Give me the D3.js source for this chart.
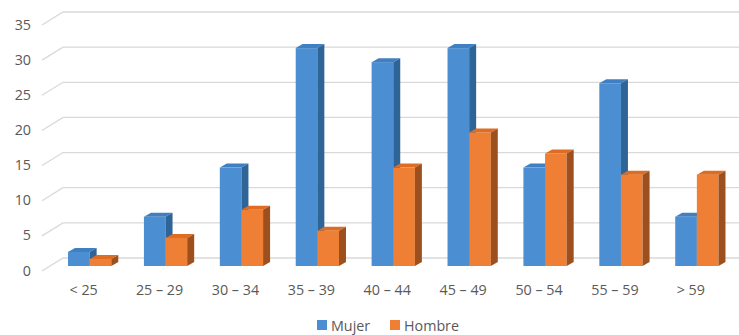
<!DOCTYPE html>
<html>
<head>
<meta charset="utf-8">
<script src="https://cdn.jsdelivr.net/npm/d3@7"></script>
<style>
  html, body { margin: 0; padding: 0; background: #fff; }
  svg { display: block; font-family: "Open Sans", "Liberation Sans", sans-serif; }
</style>
</head>
<body>
<svg id="chart" width="739" height="335"></svg>
<script>
// Age groups and counts by sex
const categories = ["< 25", "25 – 29", "30 – 34", "35 – 39", "40 – 44", "45 – 49", "50 – 54", "55 – 59", "> 59"];
const seriesNames = ["Mujer", "Hombre"];
const mujer  = [2, 7, 14, 31, 29, 31, 14, 26, 7];
const hombre = [1, 4, 8, 5, 14, 19, 16, 13, 13];
const yTicks = [0, 5, 10, 15, 20, 25, 30, 35];

const colors = {
  Mujer:  { front: "#4b8fd2", top: "#3f7fc2", side: "#2e6496" },
  Hombre: { front: "#ef7f35", top: "#dc6d22", side: "#9d501d" }
};

const svg = d3.select("#chart");
const W = 739;

// 3D-ish geometry: back wall, front plane, and bar depth
const wallDX = 21, wallDY = 13;   // floor depth of the plot
const barDX = 7, barDY = 4;       // depth of each bar
const wallLeft = 63;

const yBack  = d3.scaleLinear().domain([0, 35]).range([258, 12]);
const yBar   = d3.scaleLinear().domain([0, 35]).range([266, 20]);

const x = d3.scaleBand().domain(categories).range([51.7, 734.8])
  .paddingInner(0.43).paddingOuter(0.215);
const xSub = d3.scaleBand().domain(seriesNames).range([0, x.bandwidth()]);

const textColor = "#595959";
const gridColor = "#d9d9d9";
const fontSize = 14.3;

// Gridlines: back wall line plus diagonal to front
const grid = svg.append("g");
yTicks.forEach(t => {
  const yb = yBack(t);
  grid.append("path")
    .attr("d", `M${wallLeft - wallDX},${yb + wallDY} L${wallLeft},${yb} L${W},${yb}`)
    .attr("fill", "none")
    .attr("stroke", gridColor)
    .attr("stroke-width", 1.3);
  svg.append("text")
    .attr("x", 31)
    .attr("y", yb + wallDY - 1)
    .attr("text-anchor", "end")
    .attr("dominant-baseline", "central")
    .attr("font-size", fontSize)
    .attr("fill", textColor)
    .text(t);
});

// Bars
const data = categories.map((c, i) => ({ cat: c, Mujer: mujer[i], Hombre: hombre[i] }));
const bars = svg.append("g");
data.forEach(d => {
  seriesNames.forEach(s => {
    const x0 = x(d.cat) + xSub(s);
    const w = xSub.bandwidth();
    const y0 = yBar(0);
    const y1 = yBar(d[s]);
    const c = colors[s];
    const g = bars.append("g");
    g.append("rect")
      .attr("x", x0).attr("y", y1)
      .attr("width", w).attr("height", y0 - y1)
      .attr("fill", c.front);
    g.append("path")
      .attr("d", `M${x0},${y1} L${x0 + barDX},${y1 - barDY} L${x0 + w + barDX},${y1 - barDY} L${x0 + w},${y1} Z`)
      .attr("fill", c.top);
    g.append("path")
      .attr("d", `M${x0 + w},${y1} L${x0 + w + barDX},${y1 - barDY} L${x0 + w + barDX},${y0 - barDY} L${x0 + w},${y0} Z`)
      .attr("fill", c.side);
  });
});

// Category labels
categories.forEach(c => {
  svg.append("text")
    .attr("x", x(c) + x.bandwidth() / 2 - 6)
    .attr("y", 289)
    .attr("text-anchor", "middle")
    .attr("dominant-baseline", "central")
    .attr("font-size", fontSize)
    .attr("fill", textColor)
    .text(c);
});

// Legend
const legendItems = [
  { name: "Mujer", x: 317 },
  { name: "Hombre", x: 390 }
];
legendItems.forEach(li => {
  svg.append("rect")
    .attr("x", li.x).attr("y", 320)
    .attr("width", 10).attr("height", 10)
    .attr("fill", colors[li.name].front);
  svg.append("text")
    .attr("x", li.x + 14)
    .attr("y", 325.5)
    .attr("dominant-baseline", "central")
    .attr("font-size", fontSize)
    .attr("fill", textColor)
    .text(li.name);
});
</script>
</body>
</html>
